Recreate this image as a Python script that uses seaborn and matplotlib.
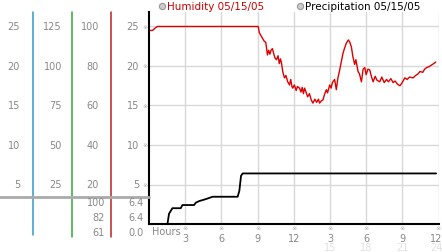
import matplotlib
matplotlib.use("Agg")
import matplotlib.pyplot as plt
import matplotlib.transforms as mtransforms
import seaborn as sns
import pandas as pd

# ---------------- data ----------------
hum_hours = [0.0, 0.3, 0.5, 0.7, 9.05, 9.15, 9.3, 9.45, 9.57, 9.68, 9.82, 9.92, 10.02, 10.12,
             10.23, 10.35, 10.45, 10.57, 10.7, 10.8, 10.9, 10.98, 11.1, 11.23, 11.35, 11.5,
             11.65, 11.75, 11.85, 11.92, 12.05, 12.2, 12.3, 12.48, 12.6, 12.7, 12.8, 12.9,
             13.04, 13.15, 13.3, 13.45, 13.59, 13.75, 13.9, 14.05, 14.14, 14.3, 14.42, 14.55,
             14.7, 14.8, 14.98, 15.1, 15.2, 15.39, 15.53, 15.65, 15.81, 15.95, 16.08, 16.2,
             16.36, 16.53, 16.65, 16.78, 16.9, 17.05, 17.15, 17.33, 17.45, 17.61, 17.75, 17.89,
             18.0, 18.15, 18.3, 18.45, 18.58, 18.75, 18.9, 19.13, 19.3, 19.5, 19.69, 19.85,
             20.05, 20.24, 20.4, 20.6, 20.8, 20.95, 21.21, 21.4, 21.6, 21.9, 22.1, 22.3, 22.46,
             22.7, 22.85, 23.02, 23.2, 23.4, 23.6, 23.77]
hum_values = [24.5, 24.5, 24.8, 25.0, 25.0, 24.2, 23.8, 23.4, 23.1, 23.0, 21.4, 22.0, 21.5, 22.0,
              22.2, 21.5, 21.0, 20.8, 21.3, 20.3, 20.9, 20.4, 19.2, 18.5, 18.8, 18.0,
              17.6, 18.3, 17.4, 17.2, 17.6, 16.9, 17.4, 17.2, 16.7, 17.3, 16.5, 17.2,
              16.6, 16.1, 16.5, 15.7, 15.3, 15.8, 15.4, 15.8, 15.3, 15.6, 15.7, 16.4,
              17.0, 16.6, 17.6, 17.2, 17.9, 18.3, 17.0, 18.4, 19.5, 20.6, 21.6, 22.2,
              22.9, 23.3, 23.0, 22.4, 21.2, 20.2, 20.8, 19.3, 19.0, 18.0, 19.6, 19.8,
              18.9, 19.6, 19.5, 18.6, 18.0, 18.7, 18.2, 18.0, 18.6, 17.9, 18.3, 18.0,
              18.4, 17.9, 18.1, 17.7, 17.5, 17.8, 18.5, 18.3, 18.6, 18.5, 18.8, 19.0, 19.3,
              19.2, 19.6, 19.8, 19.9, 20.1, 20.3, 20.5]

prec_hours = [0.0, 1.53, 1.66, 1.94, 2.63, 2.77, 3.74, 3.88, 4.16, 4.71, 5.27, 7.35, 7.49,
              7.63, 7.76, 23.8]
prec_values = [0.0, 0.0, 1.3, 2.0, 2.0, 2.4, 2.4, 2.7, 2.9, 3.15, 3.45, 3.45, 4.2,
               6.1, 6.4, 6.4]

y_ticks = [5, 10, 15, 20, 25]
col_a_labels = ["5", "10", "15", "20", "25"]
col_b_labels = ["25", "50", "75", "100", "125"]
col_c_labels = ["20", "40", "60", "80", "100"]
col_d_labels = ["5", "10", "15", "20", "25"]

x_ticks = [3, 6, 9, 12, 15, 18, 21, 24]
x_labels = ["3", "6", "9", "12", "3", "6", "9", "12"]
x_labels2_pos = [15, 18, 21, 24]
x_labels2 = ["15", "18", "21", "24"]

stats_green = ["100", "82", "61"]
stats_red = ["6.4", "6.4", "0.0"]

legend_labels = ["Humidity 05/15/05", "Precipitation 05/15/05"]

# ---------------- figure ----------------
sns.set_style("white")
plt.rcParams["font.family"] = ["DejaVu Sans"]

W, H = 442, 253
fig = plt.figure(figsize=(W / 100, H / 100), dpi=100)
ax = fig.add_axes([149 / W, (H - 225) / H, 289.5 / W, 212 / H])
ax.set_xlim(0, 24)
ax.set_ylim(0, 212 / 7.9)

# grid
for t in y_ticks:
    ax.axhline(t, color="#d8d8d8", lw=1, zorder=0)
for t in x_ticks:
    ax.axvline(t, color="#d8d8d8", lw=1, zorder=0)

hum = pd.DataFrame({"h": hum_hours, "v": hum_values})
prec = pd.DataFrame({"h": prec_hours, "v": prec_values})
sns.lineplot(data=hum, x="h", y="v", ax=ax, color="#dd0000", lw=1.0, estimator=None, sort=False)
sns.lineplot(data=prec, x="h", y="v", ax=ax, color="black", lw=1.3, estimator=None, sort=False)

for s in ["top", "right"]:
    ax.spines[s].set_visible(False)
ax.spines["left"].set_color("black")
ax.spines["left"].set_linewidth(1.5)
ax.spines["bottom"].set_color("black")
ax.spines["bottom"].set_linewidth(1.5)
ax.set_xlabel("")
ax.set_ylabel("")
ax.set_yticks([])
ax.set_xticks(x_ticks)
ax.set_xticklabels(x_labels)
fs = 7
ax.tick_params(axis="x", length=0, pad=6.8, labelsize=fs, labelcolor="#888888")
shift = mtransforms.ScaledTranslation(-2 / 100, 0, fig.dpi_scale_trans)
last = ax.get_xticklabels()[-1]
last.set_transform(last.get_transform() + shift)

gray = "#888888"
# x-axis extra markers and second row
xt = mtransforms.blended_transform_factory(ax.transData, fig.transFigure)
for t in x_ticks:
    ax.text(t, (H - 229) / H, "※", transform=xt, ha="center", va="center",
            fontsize=4.5, color="#aaaaaa")
for t, lab in zip(x_labels2_pos, x_labels2):
    txt = ax.text(t, (H - 248) / H, lab, transform=xt, ha="center", va="center",
                  fontsize=fs, color="#e0e0e0")
    if t == 24:
        txt.set_transform(xt + shift)
ax.text(0.25, (H - 232) / H, "Hours", transform=xt, ha="left", va="center",
        fontsize=fs, color=gray)

# left panel: scale columns tied to main axis y-scale
yt = mtransforms.blended_transform_factory(fig.transFigure, ax.transData)
for t, a, b, c, d in zip(y_ticks, col_a_labels, col_b_labels, col_c_labels, col_d_labels):
    fig.text(20 / W, t, a, transform=yt, ha="right", va="center", fontsize=fs, color=gray)
    fig.text(62 / W, t, b, transform=yt, ha="right", va="center", fontsize=fs, color=gray)
    fig.text(99 / W, t, c, transform=yt, ha="right", va="center", fontsize=fs, color=gray)
    fig.text(139 / W, t, d, transform=yt, ha="right", va="center", fontsize=fs, color=gray)
    fig.text(145 / W, t, "※", transform=yt, ha="center", va="center", fontsize=4.5, color="#aaaaaa")

# vertical colour lines
for xpix, col, ybot in [(33, "#3399cc", 236), (72, "#33aa33", 238), (111, "#bb2222", 238)]:
    fig.add_artist(plt.Line2D([xpix / W, xpix / W], [(H - 13) / H, (H - ybot) / H],
                              transform=fig.transFigure, color=col, lw=1.1))
# gray separator
fig.add_artist(plt.Line2D([0, 149 / W], [(H - 198) / H, (H - 198) / H],
                          transform=fig.transFigure, color="#aaaaaa", lw=2))

# stats under separator
for i, (g, r) in enumerate(zip(stats_green, stats_red)):
    yy = (H - (203.5 + 15 * i)) / H
    fig.text(105 / W, yy, g, ha="right", va="center", fontsize=fs, color=gray)
    fig.text(144 / W, yy, r, ha="right", va="center", fontsize=fs, color=gray)

# legend
for xpix, lab, col in [(162, legend_labels[0], "#cc0000"), (300, legend_labels[1], "black")]:
    fig.add_artist(plt.Line2D([xpix / W], [(H - 7) / H], transform=fig.transFigure,
                              marker="o", markersize=4.5, markerfacecolor="#cccccc",
                              markeredgecolor="#999999", markeredgewidth=0.8, lw=0))
    fig.text((xpix + 5) / W, (H - 7) / H, lab, ha="left", va="center", fontsize=7.5, color=col)

fig.savefig("out.png", dpi=100)
